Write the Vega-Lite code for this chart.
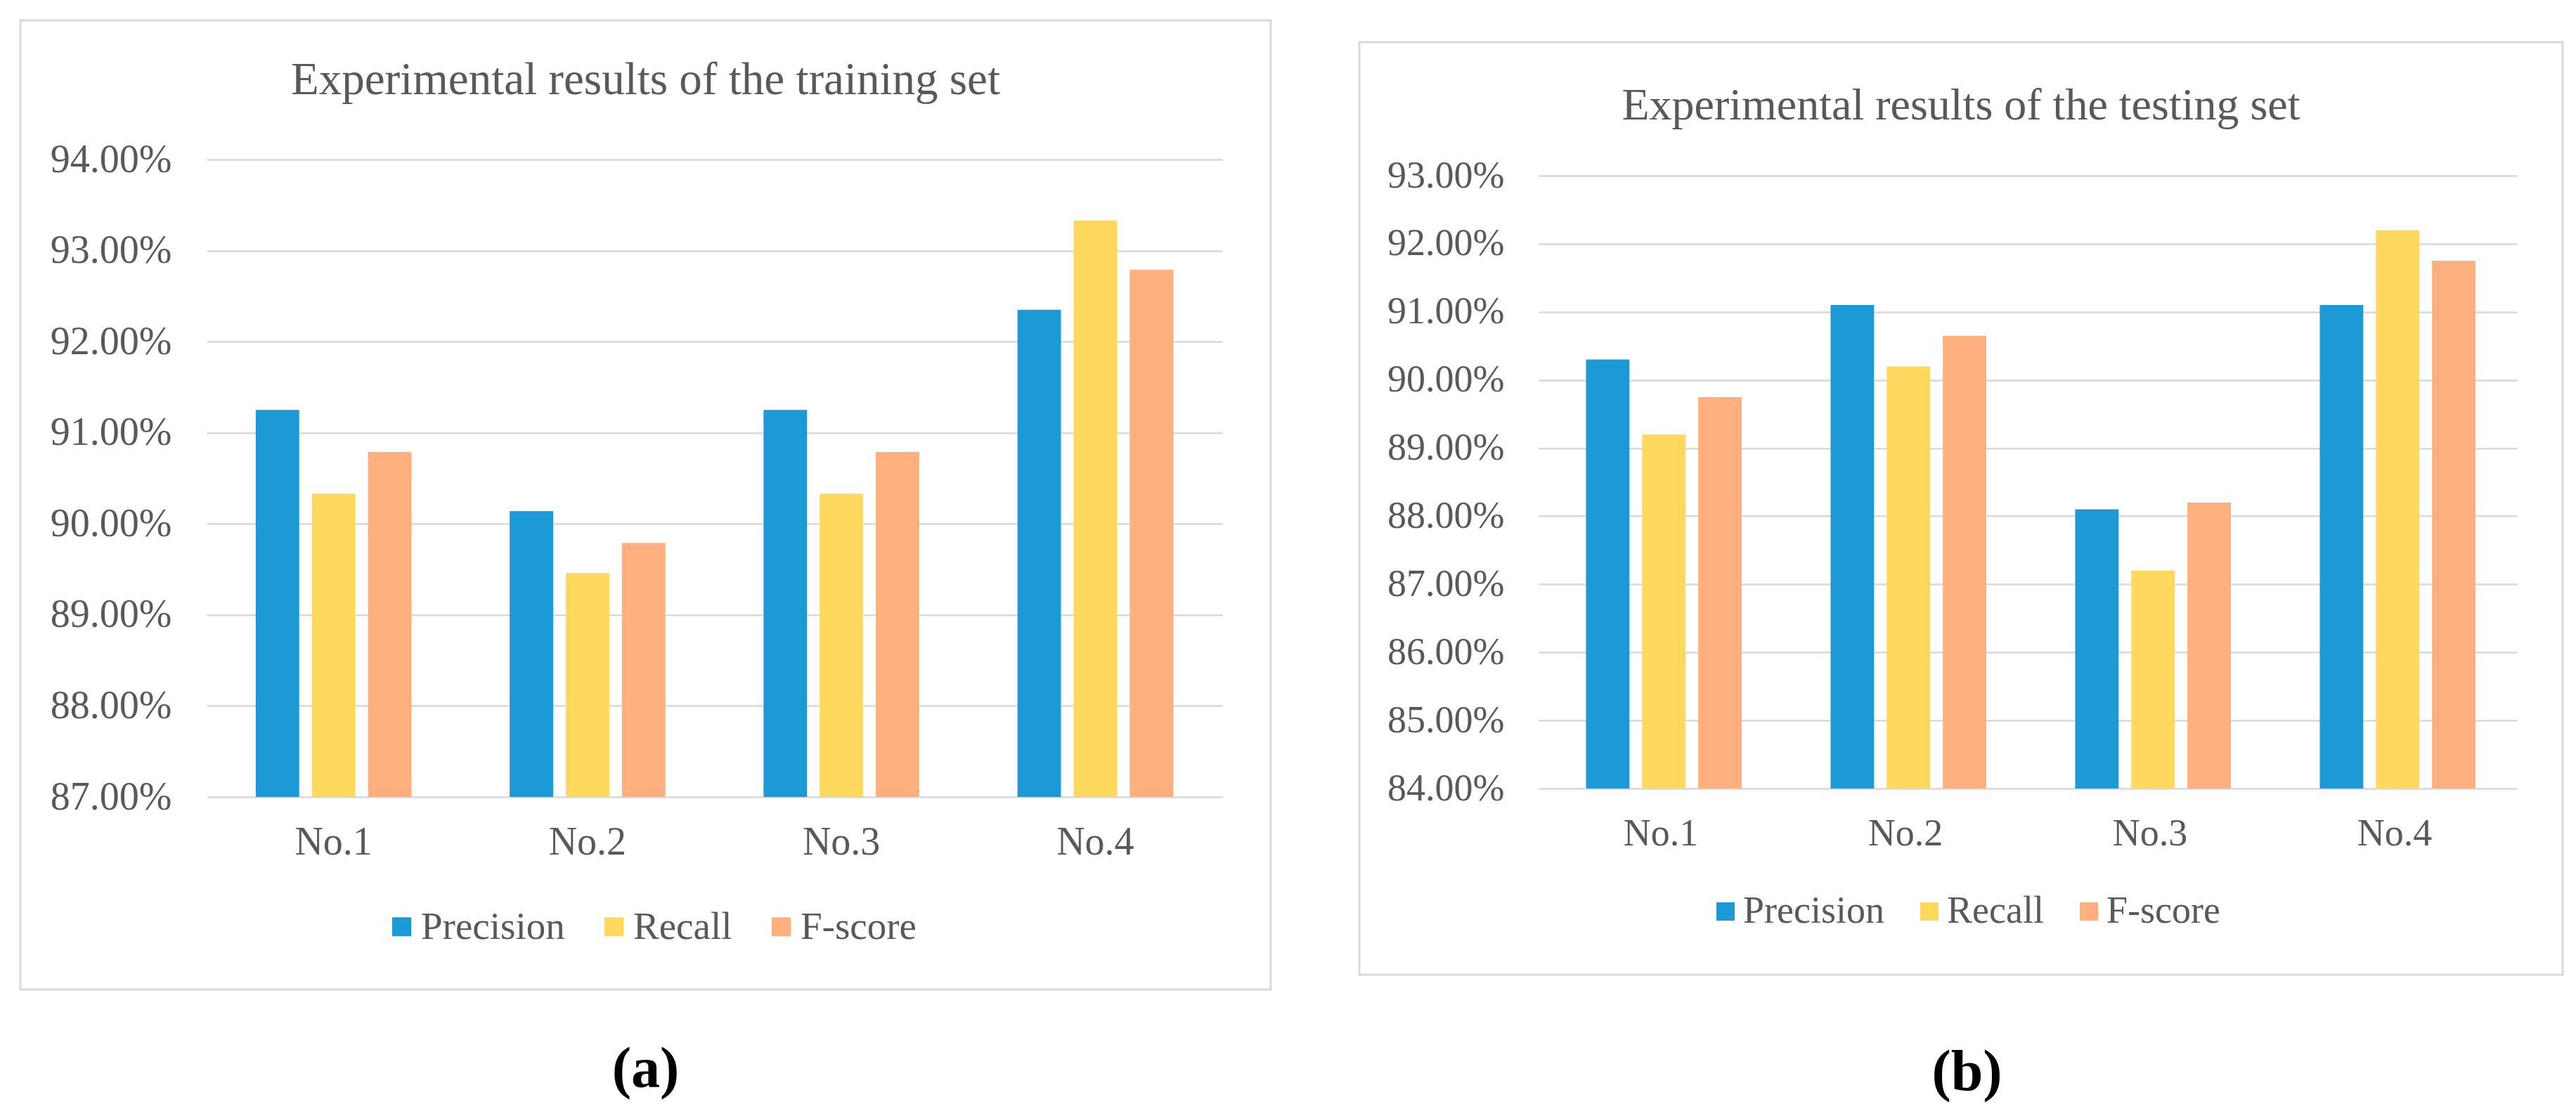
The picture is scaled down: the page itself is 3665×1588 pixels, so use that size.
{
  "$schema": "https://vega.github.io/schema/vega-lite/v6.json",
  "background": "white",
  "padding": {"left": 27, "top": 27, "right": 0, "bottom": 0},
  "datasets": {
    "train": [
      {"run": "No.1", "metric": "Precision", "value": 91.25},
      {"run": "No.1", "metric": "Recall", "value": 90.33},
      {"run": "No.1", "metric": "F-score", "value": 90.79},
      {"run": "No.2", "metric": "Precision", "value": 90.14},
      {"run": "No.2", "metric": "Recall", "value": 89.46},
      {"run": "No.2", "metric": "F-score", "value": 89.79},
      {"run": "No.3", "metric": "Precision", "value": 91.25},
      {"run": "No.3", "metric": "Recall", "value": 90.33},
      {"run": "No.3", "metric": "F-score", "value": 90.79},
      {"run": "No.4", "metric": "Precision", "value": 92.35},
      {"run": "No.4", "metric": "Recall", "value": 93.33},
      {"run": "No.4", "metric": "F-score", "value": 92.79}
    ],
    "test": [
      {"run": "No.1", "metric": "Precision", "value": 90.3},
      {"run": "No.1", "metric": "Recall", "value": 89.2},
      {"run": "No.1", "metric": "F-score", "value": 89.75},
      {"run": "No.2", "metric": "Precision", "value": 91.1},
      {"run": "No.2", "metric": "Recall", "value": 90.2},
      {"run": "No.2", "metric": "F-score", "value": 90.65},
      {"run": "No.3", "metric": "Precision", "value": 88.1},
      {"run": "No.3", "metric": "Recall", "value": 87.2},
      {"run": "No.3", "metric": "F-score", "value": 88.2},
      {"run": "No.4", "metric": "Precision", "value": 91.1},
      {"run": "No.4", "metric": "Recall", "value": 92.2},
      {"run": "No.4", "metric": "F-score", "value": 91.75}
    ],
    "empty": []
  },
  "hconcat": [
    {
      "width": 1779,
      "height": 1379,
      "data": {"name": "train"},
      "title": {"text": "Experimental results of the training set", "fontSize": 65, "offset": -119},
      "mark": {"type": "bar"},
      "encoding": {
        "x": {
          "field": "run", "type": "nominal", "sort": ["No.1", "No.2", "No.3", "No.4"],
          "scale": {"range": [265, 1710], "paddingInner": 0.337, "paddingOuter": 0.1685},
          "axis": {
            "orient": "bottom", "offset": -274, "labelPadding": 37, "labelFontSize": 56, "labelAngle": 0,
            "domain": false, "ticks": false, "grid": false,
            "title": "(a)", "titleFontSize": 82, "titleFontWeight": "bold", "titleColor": "black",
            "titleX": 889, "titlePadding": 255, "titleBaseline": "top"
          }
        },
        "xOffset": {
          "field": "metric", "type": "nominal", "sort": ["Precision", "Recall", "F-score"],
          "scale": {"paddingInner": 0.225, "paddingOuter": 0.1125}
        },
        "y": {
          "field": "value", "type": "quantitative",
          "scale": {"domain": [87, 94], "range": [1105, 198], "zero": false, "nice": false},
          "axis": {
            "values": [87, 88, 89, 90, 91, 92, 93, 94], "offset": -215, "labelPadding": 0,
            "labelFontSize": 56, "labelExpr": "format(datum.value, '.2f') + '%'",
            "domain": false, "ticks": false, "grid": true, "title": null
          }
        },
        "y2": {"datum": 87},
        "color": {
          "field": "metric", "type": "nominal", "sort": ["Precision", "Recall", "F-score"],
          "scale": {"domain": ["Precision", "Recall", "F-score"], "range": ["#1B9AD6", "#FFD85E", "#FFB07E"]},
          "legend": {
            "orient": "none", "direction": "horizontal", "legendX": 515, "legendY": 1262,
            "title": null, "labelFontSize": 55, "labelLimit": 1000, "symbolType": "square", "symbolSize": 729,
            "symbolStrokeWidth": 0, "labelOffset": 0, "columnPadding": 42, "padding": 0
          }
        }
      }
    },
    {
      "spacing": 27,
      "vconcat": [
        {
          "width": 1712,
          "height": 1,
          "data": {"name": "empty"},
          "mark": {"type": "point"},
          "view": {"stroke": "white", "strokeWidth": 1, "fill": null}
        },
        {
          "width": 1712,
          "height": 1327,
          "data": {"name": "test"},
          "title": {"text": "Experimental results of the testing set", "fontSize": 64, "offset": -123},
          "mark": {"type": "bar"},
          "encoding": {
            "x": {
              "field": "run", "type": "nominal", "sort": ["No.1", "No.2", "No.3", "No.4"],
              "scale": {"range": [255, 1647], "paddingInner": 0.336, "paddingOuter": 0.168},
              "axis": {
                "orient": "bottom", "offset": -265, "labelPadding": 37, "labelFontSize": 54, "labelAngle": 0,
                "domain": false, "ticks": false, "grid": false,
                "title": "(b)", "titleFontSize": 82, "titleFontWeight": "bold", "titleColor": "black",
                "titleX": 864, "titlePadding": 272, "titleBaseline": "top"
              }
            },
            "xOffset": {
              "field": "metric", "type": "nominal", "sort": ["Precision", "Recall", "F-score"],
              "scale": {"paddingInner": 0.22, "paddingOuter": 0.11}
            },
            "y": {
              "field": "value", "type": "quantitative",
              "scale": {"domain": [84, 93], "range": [1062, 190], "zero": false, "nice": false},
              "axis": {
                "values": [84, 85, 86, 87, 88, 89, 90, 91, 92, 93], "offset": -206, "labelPadding": 0,
                "labelFontSize": 54, "labelExpr": "format(datum.value, '.2f') + '%'",
                "domain": false, "ticks": false, "grid": true, "title": null
              }
            },
            "y2": {"datum": 84},
            "color": {
              "field": "metric", "type": "nominal", "sort": ["Precision", "Recall", "F-score"],
              "scale": {"domain": ["Precision", "Recall", "F-score"], "range": ["#1B9AD6", "#FFD85E", "#FFB07E"]},
              "legend": {
                "orient": "none", "direction": "horizontal", "legendX": 494, "legendY": 1241,
                "title": null, "labelFontSize": 54, "labelLimit": 1000, "symbolType": "square", "symbolSize": 676,
                "symbolStrokeWidth": 0, "labelOffset": -2, "columnPadding": 37, "padding": 0
              }
            }
          }
        }
      ]
    }
  ],
  "spacing": 122,
  "resolve": {"scale": {"color": "independent"}},
  "config": {
    "font": "Liberation Serif",
    "view": {"stroke": "#D9D9D9", "strokeWidth": 3},
    "title": {"font": "Liberation Serif", "fontWeight": "normal", "color": "#595959", "anchor": "middle", "frame": "group"},
    "axis": {"labelFont": "Liberation Serif", "titleFont": "Liberation Serif", "labelColor": "#595959", "gridColor": "#D9D9D9", "gridWidth": 2.5},
    "legend": {"labelFont": "Liberation Serif", "labelColor": "#595959"}
  }
}
